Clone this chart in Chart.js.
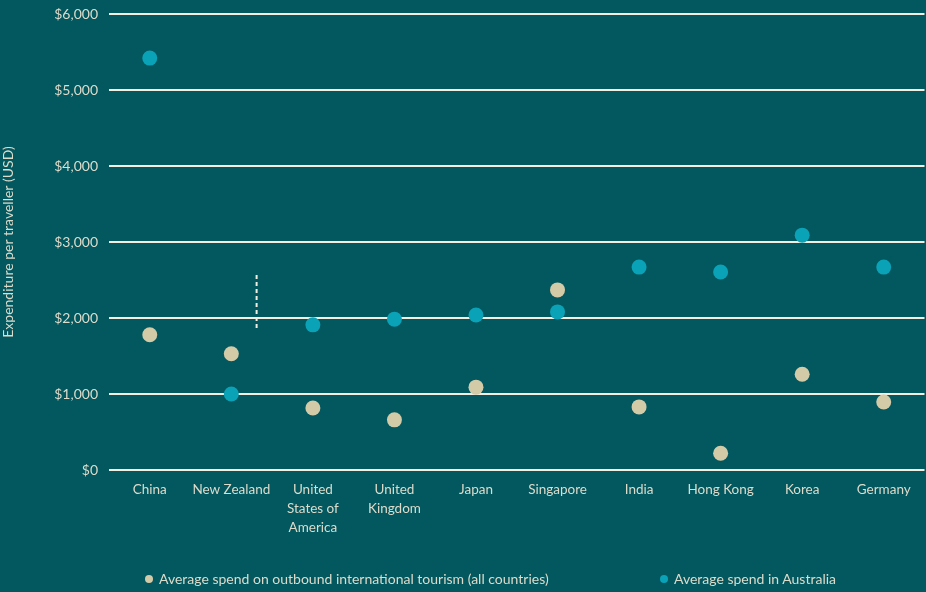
<!DOCTYPE html>
<html>
<head>
<meta charset="utf-8">
<script src="https://cdn.jsdelivr.net/npm/chart.js@4/dist/chart.umd.min.js"></script>
<style>
  html, body { margin: 0; padding: 0; background: #03575f; overflow: hidden; }
  #wrap { position: relative; width: 932px; height: 592px; }
  canvas { display: block; }
  .legend { position: absolute; top: 570px; font: 14px Lato, "Open Sans", sans-serif; color: #dcdccb; white-space: nowrap; }
  .legend span { display: inline-block; width: 8px; height: 8px; border-radius: 50%; margin-right: 6px; vertical-align: 1px; }
</style>
</head>
<body>
<div id="wrap">
  <canvas id="chart" width="932" height="592" style="width:932px;height:592px"></canvas>
  <div class="legend" style="left:145px"><span style="background:#d3cba7"></span>Average spend on outbound international tourism (all countries)</div>
  <div class="legend" style="left:660px"><span style="background:#0aa2b6"></span>Average spend in Australia</div>
</div>
<script>
// countries on the x axis
const countries = ["China", "New Zealand", ["United", "States of", "America"], ["United", "Kingdom"],
  "Japan", "Singapore", "India", "Hong Kong", "Korea", "Germany"];
// average spend on outbound international tourism (all countries), USD
const outboundSpend = [1780, 1530, 815, 660, 1090, 2370, 830, 220, 1260, 895];
// average spend in Australia, USD
const australiaSpend = [5420, 1000, 1910, 1985, 2040, 2080, 2670, 2605, 3090, 2670];
// dashed marker next to New Zealand (x as category position, y in USD)
const markerX = [1.31, 1.31];
const markerY = [1870, 2570];
const yTicks = [0, 1000, 2000, 3000, 4000, 5000, 6000];

const textColor = "#dcdccb";
const gridColor = "#f2efe2";
const beige = "#d3cba7";
const cyan = "#0aa2b6";

Chart.defaults.font.family = "Lato, 'Open Sans', sans-serif";
Chart.defaults.color = textColor;

const noSidePadding = (axis) => {
  axis.paddingLeft = 0;
  axis.paddingRight = 0;
};

new Chart(document.getElementById("chart"), {
  type: "line",
  data: {
    labels: countries,
    datasets: [
      {
        label: "Average spend on outbound international tourism (all countries)",
        data: outboundSpend,
        showLine: false,
        pointRadius: 7.5,
        pointHoverRadius: 7.5,
        backgroundColor: beige,
        borderColor: beige,
        borderWidth: 0,
      },
      {
        label: "Average spend in Australia",
        data: australiaSpend,
        showLine: false,
        pointRadius: 7.5,
        pointHoverRadius: 7.5,
        backgroundColor: cyan,
        borderColor: cyan,
        borderWidth: 0,
      },
      {
        label: "marker",
        data: markerX.map((x, i) => ({ x: x, y: markerY[i] })),
        xAxisID: "x2",
        borderColor: gridColor,
        borderWidth: 2,
        borderDash: [4, 3],
        pointRadius: 0,
        fill: false,
      },
    ],
  },
  options: {
    responsive: false,
    animation: false,
    layout: { padding: { top: 14, left: 0, right: 0, bottom: 0 } },
    plugins: {
      tooltip: { enabled: false },
      legend: { display: false },
    },
    scales: {
      x: {
        type: "category",
        offset: true,
        grid: { display: false, drawTicks: false },
        border: { display: false },
        ticks: { color: textColor, font: { size: 13.5, lineHeight: 1.4 }, padding: 10, maxRotation: 0, autoSkip: false },
        afterFit: (axis) => {
          axis.height = 122;
          noSidePadding(axis);
        },
      },
      x2: {
        type: "linear",
        display: false,
        min: -0.5,
        max: 9.5,
        afterFit: noSidePadding,
      },
      y: {
        min: 0,
        max: 6000,
        afterBuildTicks: (axis) => { axis.ticks = yTicks.map((v) => ({ value: v })); },
        afterFit: (axis) => {
          axis.width = 109;
          axis.paddingTop = 0;
          axis.paddingBottom = 0;
        },
        grid: { color: gridColor, lineWidth: 2, drawTicks: false },
        border: { display: false },
        ticks: {
          color: textColor,
          font: { size: 14 },
          padding: 11,
          callback: (v) => "$" + v.toLocaleString("en-US"),
        },
        title: {
          display: true,
          text: "Expenditure per traveller (USD)",
          color: textColor,
          font: { size: 14 },
          padding: { top: 0, bottom: 0 },
        },
      },
    },
  },
});
</script>
</body>
</html>
